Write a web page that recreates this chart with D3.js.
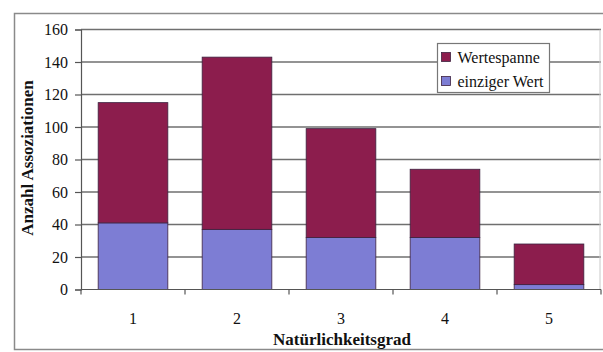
<!DOCTYPE html>
<html>
<head>
<meta charset="utf-8">
<script src="https://cdn.jsdelivr.net/npm/d3@7"></script>
<style>
  html, body { margin: 0; padding: 0; background: #fff; }
  svg { display: block; }
  svg text { font-family: "Liberation Serif", "Times New Roman", Times, serif; fill: #111; }
</style>
</head>
<body>
<svg id="chart" width="603" height="352"></svg>
<script>
// Naturalness degree categories
const categories = ["1", "2", "3", "4", "5"];
// Associations with a single value (lower segment)
const einzigerWert = [41, 37, 32, 32, 3];
// Associations with a value range (upper segment)
const wertespanne = [74, 106, 67, 42, 25];
const yTicks = [0, 20, 40, 60, 80, 100, 120, 140, 160];
const seriesNames = ["Wertespanne", "einziger Wert"];
const seriesColors = ["#8c1d4d", "#7d7dd4"];

const FONT = "'Liberation Serif', 'Times New Roman', Times, serif";

const svg = d3.select("#chart");
const margin = { left: 81, right: 2, top: 29.5, bottom: 62.5 };
const W = 603, H = 352;

// outer chart frame
svg.append("rect")
  .attr("x", 14.5).attr("y", 13.5)
  .attr("width", 600).attr("height", 336)
  .attr("fill", "none").attr("stroke", "#8a8a8a").attr("stroke-width", 1.5);

const x = d3.scaleBand()
  .domain(categories)
  .range([margin.left, W - margin.right])
  .paddingInner(0.33).paddingOuter(0.165);

const y = d3.scaleLinear()
  .domain([0, 160])
  .range([H - margin.bottom, margin.top]);

// horizontal gridlines
svg.append("g")
  .selectAll("line")
  .data(yTicks.filter(d => d > 0))
  .join("line")
  .attr("x1", margin.left).attr("x2", W - margin.right)
  .attr("y1", d => y(d)).attr("y2", d => y(d))
  .attr("stroke", "#6f6f6f").attr("stroke-width", 1.4);

// right border of plot area
svg.append("line")
  .attr("x1", W - margin.right - 1).attr("x2", W - margin.right - 1)
  .attr("y1", y(160)).attr("y2", y(0))
  .attr("stroke", "#c8c8c8");

// stacked data
const rows = categories.map((c, i) => ({ cat: c, einziger: einzigerWert[i], spanne: wertespanne[i] }));
const stack = d3.stack().keys(["einziger", "spanne"])(rows);
const fillFor = { einziger: seriesColors[1], spanne: seriesColors[0] };

svg.append("g")
  .selectAll("g")
  .data(stack)
  .join("g")
  .attr("fill", d => fillFor[d.key])
  .selectAll("rect")
  .data(d => d)
  .join("rect")
  .attr("x", d => x(d.data.cat))
  .attr("width", x.bandwidth())
  .attr("y", d => y(d[1]))
  .attr("height", d => y(d[0]) - y(d[1]))
  .attr("stroke", "#3d2240").attr("stroke-width", 0.8);

// y axis
const yAxis = svg.append("g")
  .attr("transform", `translate(${margin.left},0)`)
  .call(d3.axisLeft(y).tickValues(yTicks).tickSize(6).tickPadding(7));
yAxis.attr("font-family", null);
yAxis.select(".domain").attr("stroke", "#555").attr("stroke-width", 1.2);
yAxis.selectAll(".tick line").attr("stroke", "#555").attr("stroke-width", 1.2);
yAxis.selectAll("text").style("font-size", "16px").style("font-family", FONT);

// x axis: ticks sit at category boundaries
const xAxisG = svg.append("g").attr("transform", `translate(0,${y(0)})`);
xAxisG.append("line")
  .attr("x1", margin.left).attr("x2", W - margin.right)
  .attr("stroke", "#555").attr("stroke-width", 1.2);
const step = x.step();
const bounds = d3.range(categories.length + 1).map(i => margin.left + i * step);
xAxisG.selectAll("line.b")
  .data(bounds)
  .join("line").attr("class", "b")
  .attr("x1", d => d).attr("x2", d => d)
  .attr("y1", 0).attr("y2", 5)
  .attr("stroke", "#555").attr("stroke-width", 1.2);
xAxisG.selectAll("text")
  .data(categories)
  .join("text")
  .attr("x", d => x(d) + x.bandwidth() / 2)
  .attr("y", 34)
  .attr("text-anchor", "middle")
  .style("font-size", "16px").style("font-family", FONT)
  .text(d => d);

// axis titles
svg.append("text")
  .attr("x", 342)
  .attr("y", 345)
  .attr("text-anchor", "middle")
  .style("font-size", "17px").style("font-weight", "bold").style("font-family", FONT)
  .text("Natürlichkeitsgrad");

svg.append("text")
  .attr("transform", `translate(33,158) rotate(-90)`)
  .attr("text-anchor", "middle")
  .style("font-size", "17px").style("font-weight", "bold").style("font-family", FONT)
  .text("Anzahl Assoziationen");

// legend
const lg = svg.append("g").attr("transform", "translate(437.5,43.5)");
lg.append("rect")
  .attr("width", 112).attr("height", 49)
  .attr("fill", "#fff").attr("stroke", "#777").attr("stroke-width", 1.2);
const items = lg.selectAll("g.item")
  .data(seriesNames)
  .join("g").attr("class", "item")
  .attr("transform", (d, i) => `translate(4,${9 + i * 24})`);
items.append("rect")
  .attr("width", 9).attr("height", 9)
  .attr("fill", (d, i) => seriesColors[i])
  .attr("stroke", "#3d2240").attr("stroke-width", 0.8);
items.append("text")
  .attr("x", 16).attr("y", 10)
  .style("font-size", "16px").style("font-family", FONT)
  .text(d => d);
</script>
</body>
</html>
